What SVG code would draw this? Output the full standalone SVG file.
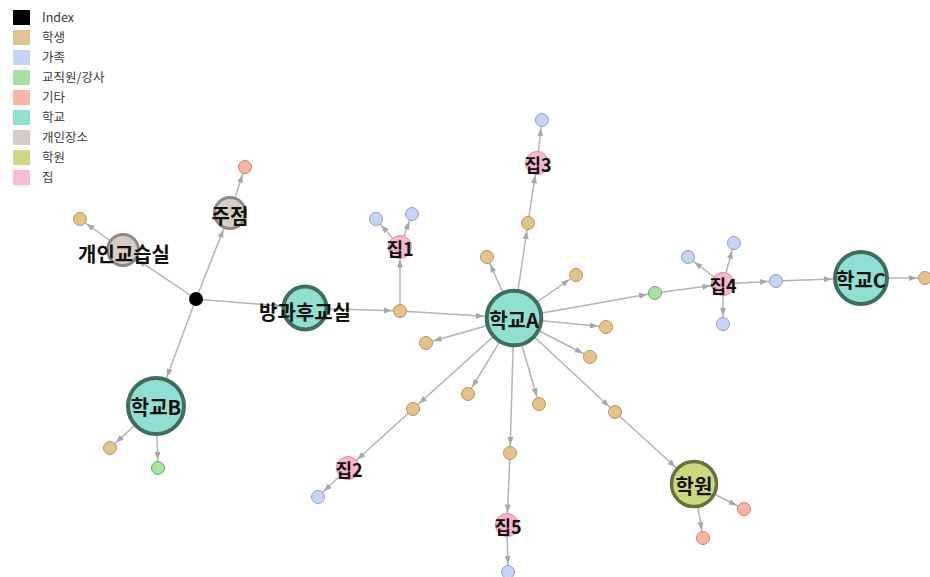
<svg xmlns="http://www.w3.org/2000/svg" width="930" height="577" viewBox="0 0 930 577">
<style>
.e{stroke:#b4b4b4;stroke-width:1.5;fill:none}
.ah{fill:#a8a8a8}
.lg{font-family:"Noto Sans CJK KR","Noto Sans",sans-serif;font-size:12.5px;fill:#3a3a3a}
.lb{font-family:"Noto Sans CJK KR","Noto Sans",sans-serif;font-weight:bold;font-size:20px;fill:#111;text-anchor:middle}
.lh{font-family:"Noto Sans CJK KR","Noto Sans",sans-serif;font-weight:bold;font-size:18px;fill:#111;text-anchor:middle}
.st{fill:#e3c38a;stroke:#b8965c;stroke-width:1}
.fa{fill:#c7d3f3;stroke:#8e9ed0;stroke-width:1}
.tc{fill:#a7e3a0;stroke:#6aa966;stroke-width:1}
.et{fill:#f9b5a0;stroke:#d47e68;stroke-width:1}
.sc{fill:#8fe0d2;stroke:#3f6d60;stroke-width:4}
.pp{fill:#d6ccc3;stroke:#8d8984;stroke-width:3}
.ac{fill:#cdd77b;stroke:#68703c;stroke-width:3.5}
.hm{fill:#f6b6ce;stroke:#d98aa6;stroke-width:1}
</style>
<defs>
<marker id="a-l" viewBox="0 0 8 6" refX="16" refY="3" markerWidth="8" markerHeight="6" markerUnits="userSpaceOnUse" orient="auto" overflow="visible"><path class="ah" d="M0,0 L8,3 L0,6 z"/></marker>
<marker id="a-h" viewBox="0 0 8 6" refX="20.5" refY="3" markerWidth="8" markerHeight="6" markerUnits="userSpaceOnUse" orient="auto" overflow="visible"><path class="ah" d="M0,0 L8,3 L0,6 z"/></marker>
<marker id="a-p" viewBox="0 0 8 6" refX="26" refY="3" markerWidth="8" markerHeight="6" markerUnits="userSpaceOnUse" orient="auto" overflow="visible"><path class="ah" d="M0,0 L8,3 L0,6 z"/></marker>
<marker id="a-m" viewBox="0 0 8 6" refX="32" refY="3" markerWidth="8" markerHeight="6" markerUnits="userSpaceOnUse" orient="auto" overflow="visible"><path class="ah" d="M0,0 L8,3 L0,6 z"/></marker>
<marker id="a-a" viewBox="0 0 8 6" refX="38" refY="3" markerWidth="8" markerHeight="6" markerUnits="userSpaceOnUse" orient="auto" overflow="visible"><path class="ah" d="M0,0 L8,3 L0,6 z"/></marker>
<marker id="a-b" viewBox="0 0 8 6" refX="39" refY="3" markerWidth="8" markerHeight="6" markerUnits="userSpaceOnUse" orient="auto" overflow="visible"><path class="ah" d="M0,0 L8,3 L0,6 z"/></marker>
<marker id="a-c" viewBox="0 0 8 6" refX="37" refY="3" markerWidth="8" markerHeight="6" markerUnits="userSpaceOnUse" orient="auto" overflow="visible"><path class="ah" d="M0,0 L8,3 L0,6 z"/></marker>
<marker id="a-w" viewBox="0 0 8 6" refX="33" refY="3" markerWidth="8" markerHeight="6" markerUnits="userSpaceOnUse" orient="auto" overflow="visible"><path class="ah" d="M0,0 L8,3 L0,6 z"/></marker>
</defs>
<rect width="930" height="577" fill="#ffffff"/>
<g id="legend">
<rect x="13" y="10" width="17" height="15" fill="#000000"/><text class="lg" x="42" y="22">Index</text>
<rect x="13" y="30" width="17" height="15" fill="#e0c38e"/><text class="lg" x="42" y="42">학생</text>
<rect x="13" y="50" width="17" height="15" fill="#c8d4f3"/><text class="lg" x="42" y="62">가족</text>
<rect x="13" y="70" width="17" height="15" fill="#a6e0a2"/><text class="lg" x="42" y="82">교직원/강사</text>
<rect x="13" y="90" width="17" height="15" fill="#f9b6a2"/><text class="lg" x="42" y="102">기타</text>
<rect x="13" y="110" width="17" height="15" fill="#92dfd2"/><text class="lg" x="42" y="122">학교</text>
<rect x="13" y="130" width="17" height="15" fill="#d6ccc4"/><text class="lg" x="42" y="142">개인장소</text>
<rect x="13" y="150" width="17" height="15" fill="#cfd884"/><text class="lg" x="42" y="162">학원</text>
<rect x="13" y="170" width="17" height="15" fill="#f8bdd2"/><text class="lg" x="42" y="182">집</text>
</g>
<g id="connectors">
<line class="e" x1="196" y1="299" x2="123" y2="250" marker-end="url(#a-p)"/>
<line class="e" x1="123" y1="250" x2="80" y2="219" marker-end="url(#a-l)"/>
<line class="e" x1="196" y1="299" x2="230" y2="213" marker-end="url(#a-p)"/>
<line class="e" x1="230" y1="213" x2="245" y2="167" marker-end="url(#a-l)"/>
<line class="e" x1="196" y1="299" x2="305" y2="308" marker-end="url(#a-m)"/>
<line class="e" x1="196" y1="299" x2="156" y2="406" marker-end="url(#a-b)"/>
<line class="e" x1="156" y1="406" x2="110" y2="448" marker-end="url(#a-l)"/>
<line class="e" x1="156" y1="406" x2="158" y2="468" marker-end="url(#a-l)"/>
<line class="e" x1="305" y1="308" x2="400" y2="311" marker-end="url(#a-l)"/>
<line class="e" x1="400" y1="311" x2="514" y2="318" marker-end="url(#a-a)"/>
<line class="e" x1="400" y1="311" x2="400" y2="247" marker-end="url(#a-h)"/>
<line class="e" x1="400" y1="247" x2="376" y2="219" marker-end="url(#a-l)"/>
<line class="e" x1="400" y1="247" x2="412" y2="214" marker-end="url(#a-l)"/>
<line class="e" x1="514" y1="318" x2="528" y2="223" marker-end="url(#a-l)"/>
<line class="e" x1="528" y1="223" x2="537" y2="163" marker-end="url(#a-h)"/>
<line class="e" x1="537" y1="163" x2="542" y2="120" marker-end="url(#a-l)"/>
<line class="e" x1="514" y1="318" x2="487" y2="257" marker-end="url(#a-l)"/>
<line class="e" x1="514" y1="318" x2="576" y2="275" marker-end="url(#a-l)"/>
<line class="e" x1="514" y1="318" x2="655" y2="293" marker-end="url(#a-l)"/>
<line class="e" x1="514" y1="318" x2="606" y2="327" marker-end="url(#a-l)"/>
<line class="e" x1="514" y1="318" x2="590" y2="357" marker-end="url(#a-l)"/>
<line class="e" x1="514" y1="318" x2="426" y2="343" marker-end="url(#a-l)"/>
<line class="e" x1="514" y1="318" x2="468" y2="394" marker-end="url(#a-l)"/>
<line class="e" x1="514" y1="318" x2="539" y2="404" marker-end="url(#a-l)"/>
<line class="e" x1="514" y1="318" x2="413" y2="409" marker-end="url(#a-l)"/>
<line class="e" x1="413" y1="409" x2="348" y2="468" marker-end="url(#a-h)"/>
<line class="e" x1="348" y1="468" x2="318" y2="497" marker-end="url(#a-l)"/>
<line class="e" x1="514" y1="318" x2="510" y2="453" marker-end="url(#a-l)"/>
<line class="e" x1="510" y1="453" x2="507" y2="525" marker-end="url(#a-h)"/>
<line class="e" x1="507" y1="525" x2="508" y2="572" marker-end="url(#a-l)"/>
<line class="e" x1="514" y1="318" x2="615" y2="412" marker-end="url(#a-l)"/>
<line class="e" x1="615" y1="412" x2="694" y2="484" marker-end="url(#a-w)"/>
<line class="e" x1="694" y1="484" x2="744" y2="509" marker-end="url(#a-l)"/>
<line class="e" x1="694" y1="484" x2="703" y2="538" marker-end="url(#a-l)"/>
<line class="e" x1="655" y1="293" x2="723" y2="284" marker-end="url(#a-h)"/>
<line class="e" x1="723" y1="284" x2="688" y2="257" marker-end="url(#a-l)"/>
<line class="e" x1="723" y1="284" x2="734" y2="243" marker-end="url(#a-l)"/>
<line class="e" x1="723" y1="284" x2="723" y2="324" marker-end="url(#a-l)"/>
<line class="e" x1="723" y1="284" x2="776" y2="281" marker-end="url(#a-l)"/>
<line class="e" x1="776" y1="281" x2="861" y2="278" marker-end="url(#a-c)"/>
<line class="e" x1="861" y1="278" x2="925" y2="278" marker-end="url(#a-l)"/>
</g>
<g id="leaves">
<circle class="st" cx="80" cy="219" r="6.5"/>
<circle class="et" cx="245" cy="167" r="6.5"/>
<circle class="st" cx="110" cy="448" r="6.5"/>
<circle class="tc" cx="158" cy="468" r="6.5"/>
<circle class="fa" cx="376" cy="219" r="6.5"/>
<circle class="fa" cx="412" cy="214" r="6.5"/>
<circle class="fa" cx="542" cy="120" r="6.5"/>
<circle class="st" cx="487" cy="257" r="6.5"/>
<circle class="st" cx="576" cy="275" r="6.5"/>
<circle class="st" cx="606" cy="327" r="6.5"/>
<circle class="st" cx="590" cy="357" r="6.5"/>
<circle class="st" cx="426" cy="343" r="6.5"/>
<circle class="st" cx="468" cy="394" r="6.5"/>
<circle class="st" cx="539" cy="404" r="6.5"/>
<circle class="fa" cx="318" cy="497" r="6.5"/>
<circle class="fa" cx="508" cy="572" r="6.5"/>
<circle class="et" cx="744" cy="509" r="6.5"/>
<circle class="et" cx="703" cy="538" r="6.5"/>
<circle class="fa" cx="688" cy="257" r="6.5"/>
<circle class="fa" cx="734" cy="243" r="6.5"/>
<circle class="fa" cx="723" cy="324" r="6.5"/>
<circle class="st" cx="925" cy="278" r="6.5"/>
</g>
<g id="n-index"><circle cx="196" cy="299" r="7" fill="#000000"/></g>
<g id="n-student1"><circle class="st" cx="400" cy="311" r="6.5"/></g>
<g id="n-student2"><circle class="st" cx="528" cy="223" r="6.5"/></g>
<g id="n-student3"><circle class="st" cx="413" cy="409" r="6.5"/></g>
<g id="n-student4"><circle class="st" cx="510" cy="453" r="6.5"/></g>
<g id="n-student5"><circle class="st" cx="615" cy="412" r="6.5"/></g>
<g id="n-staff"><circle class="tc" cx="655" cy="293" r="6.5"/></g>
<g id="n-family"><circle class="fa" cx="776" cy="281" r="6.5"/></g>
<g id="n-tutor"><circle class="pp" cx="123" cy="250" r="15.5"/><text class="lb" x="124" y="262">개인교습실</text></g>
<g id="n-pub"><circle class="pp" cx="230" cy="213" r="15.5"/><text class="lb" x="230" y="224">주점</text></g>
<g id="n-after"><circle class="sc" cx="305" cy="308" r="21.5" stroke-width="3"/><text class="lb" x="305" y="320">방과후교실</text></g>
<g id="n-schoolB"><circle class="sc" cx="156" cy="406" r="28"/><text class="lb" x="156" y="415">학교B</text></g>
<g id="n-schoolA"><circle class="sc" cx="514" cy="318" r="27.3"/><text class="lb" x="514" y="328">학교A</text></g>
<g id="n-schoolC"><circle class="sc" cx="861" cy="278" r="26"/><text class="lb" x="861" y="288">학교C</text></g>
<g id="n-academy"><circle class="ac" cx="694" cy="484" r="22.5"/><text class="lb" x="694" y="494">학원</text></g>
<g id="n-home1"><circle class="hm" cx="400" cy="247" r="11.5"/><text class="lh" x="400" y="256">집1</text></g>
<g id="n-home2"><circle class="hm" cx="348" cy="468" r="11.5"/><text class="lh" x="349" y="477">집2</text></g>
<g id="n-home3"><circle class="hm" cx="537" cy="163" r="11.5"/><text class="lh" x="538" y="172">집3</text></g>
<g id="n-home4"><circle class="hm" cx="723" cy="284" r="11.5"/><text class="lh" x="723" y="293">집4</text></g>
<g id="n-home5"><circle class="hm" cx="507" cy="525" r="11.5"/><text class="lh" x="508" y="534">집5</text></g>
</svg>
